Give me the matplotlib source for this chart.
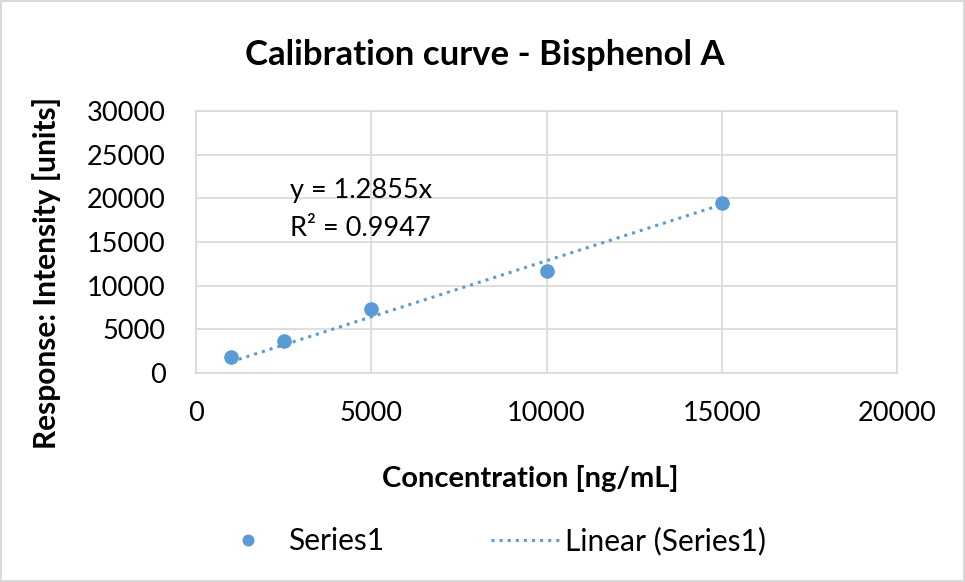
import numpy as np
import matplotlib
matplotlib.use("Agg")
import matplotlib.pyplot as plt

plt.rcParams['font.family'] = ['Lato', 'DejaVu Sans']

# data
conc = [1000, 2500, 5000, 10000, 15000]
response = [1850, 3680, 7350, 11650, 19450]
slope = 1.2855
r2 = 0.9947

x_ticks = [0, 5000, 10000, 15000, 20000]
y_ticks = [0, 5000, 10000, 15000, 20000, 25000, 30000]

blue = '#5B9BD5'
grid_c = '#D9D9D9'

fig = plt.figure(figsize=(9.65, 5.82), dpi=100)
fig.patch.set_edgecolor('#D9D9D9')
fig.patch.set_linewidth(1.5)
ax = fig.add_axes([196 / 965, 1 - 373 / 582, 701 / 965, 262 / 582])

ax.plot(conc, response, 'o', color=blue, markersize=9.5, label='Series1', zorder=3)
xf = np.array([conc[0], conc[-1]])
ax.plot(xf, slope * xf, ':', color=blue, linewidth=2.2, label='Linear (Series1)', zorder=4)

ax.set_xlim(0, 20000)
ax.set_ylim(0, 30000)
ax.set_xticks(x_ticks)
ax.set_yticks(y_ticks)
ax.tick_params(length=0, labelsize=19.5)
ax.tick_params(axis='y', pad=22)
ax.tick_params(axis='x', pad=20)
ax.grid(True, color=grid_c, linewidth=1.2)
ax.set_axisbelow(True)
for s in ax.spines.values():
    s.set_color(grid_c)
    s.set_linewidth(1.2)

ax.text(2680, 20950, f'y = {slope}x', fontsize=19.5, va='center')
ax.text(2680, 16600, f'R² = {r2}', fontsize=19.5, va='center')

fig.text(484.5 / 965, 1 - 55 / 582, 'Calibration curve - Bisphenol A', fontsize=25,
         fontweight='bold', ha='center', va='center')
fig.text(530 / 965, 1 - 478 / 582, 'Concentration [ng/mL]', fontsize=21,
         fontweight='bold', ha='center', va='center')
fig.text(47 / 965, 1 - 273 / 582, 'Response: Intensity [units]', fontsize=21.5,
         fontweight='bold', ha='center', va='center', rotation=90)

fig.legend(loc='center', bbox_to_anchor=(490 / 965, 1 - 541 / 582), ncol=2,
           frameon=False, fontsize=21.5, handlelength=2.27, handletextpad=0.2,
           columnspacing=3.6, markerscale=0.8, borderpad=0, borderaxespad=0)

fig.savefig('out.png', dpi=100)
